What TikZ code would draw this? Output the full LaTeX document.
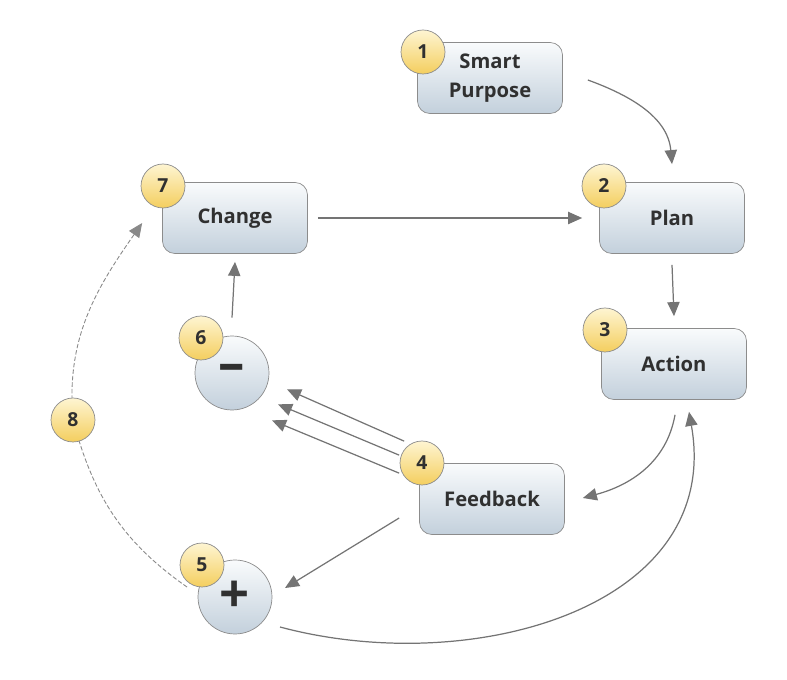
\documentclass[tikz,border=0pt]{standalone}
\usepackage{fontspec}
\setmainfont{Open Sans}
\usetikzlibrary{arrows.meta,positioning}

\definecolor{boxtop}{HTML}{F9FBFC}
\definecolor{boxbot}{HTML}{C3D0DC}
\definecolor{boxline}{HTML}{8C8C8C}
\definecolor{badgetop}{HTML}{FEF5D2}
\definecolor{badgebot}{HTML}{F4CE5E}
\definecolor{linkgray}{HTML}{747474}
\definecolor{txt}{HTML}{303030}

\tikzset{
  stepbox/.style={draw=boxline, rounded corners=7pt, top color=boxtop, bottom color=boxbot,
    minimum width=2.9cm, minimum height=1.42cm, align=center, text=txt,
    font=\fontsize{11.5}{16.5}\selectfont\bfseries},
  signbox/.style={circle, draw=boxline, top color=boxtop, bottom color=boxbot,
    minimum size=1.48cm, inner sep=0pt, text=txt, font=\fontsize{30}{30}\selectfont\bfseries},
  badge/.style={circle, draw=boxline, top color=badgetop, bottom color=badgebot,
    minimum size=0.88cm, inner sep=0pt, text=txt, font=\fontsize{11}{11}\selectfont\bfseries},
  link/.style={->, draw=linkgray, line width=0.7pt},
}

\begin{document}
\begin{tikzpicture}[x=0.02cm, y=0.02cm, >={Triangle[length=8pt,width=7pt]}]
    \useasboundingbox (0,0) rectangle (787,679);

    % Steps
    \node[stepbox] (purpose) at (490,601) {Smart\\Purpose};
    \node[stepbox] (plan) at (672,461) {Plan};
    \node[stepbox] (change) at (235,461) {Change};
    \node[stepbox] (action) at (674,315) {Action};
    \node[stepbox] (feedback) at (492,180) {Feedback};
    \node[signbox] (minus) at (232,306) {–};
    \node[signbox] (plus) at (235,82) {+};

    % Connectors
    \draw[link] ([shift={(25,-2)}]purpose.east) to[out=-20, in=95] ([shift={(0,18)}]plan.north);
    \draw[link] ([shift={(10,0)}]change.east) -- ([shift={(-17,0)}]plan.west);
    \draw[link] ([shift={(0,-11)}]plan.south) -- ([shift={(0,12)}]action.north);
    \draw[link] ([shift={(1,-15)}]action.south) to[out=-100, in=15] ([shift={(18,1)}]feedback.east);
    \draw[link] ([shift={(-20,-19)}]feedback.west) -- ([shift={(50,9)}]plus.center);
    \draw[link] ([shift={(0,18)}]minus.north) -- ([shift={(0,-8)}]change.south);
    \draw[link] ([shift={(45,-30)}]plus.center) to[out=-15, in=-80, looseness=1.1] ([shift={(15,-12)}]action.south);

    % Feedback to minus, three lines
    \draw[link] ([shift={(-15,22)}]feedback.north west) -- ([shift={(55,21)}]minus.south);
    \draw[link] ([shift={(-20,8)}]feedback.north west) -- ([shift={(46,6)}]minus.south);
    \draw[link] ([shift={(-20,-10)}]feedback.north west) -- ([shift={(40,-10)}]minus.south);

    % Dashed loop back to change
    \draw[link, draw=linkgray!85, dash pattern=on 2.5pt off 1.2pt, line width=0.5pt]
        ([shift={(-48,10)}]plus.center) to[out=145, in=-75] (73,259)
        to[out=95, in=-125] ([shift={(-20,-5)}]change.west);

    % Numbers
    \node[badge] (n1) at (423,627) {1};
    \node[badge] (n2) at (604,493) {2};
    \node[badge] (n7) at (163,493) {7};
    \node[badge] (n3) at (605,349) {3};
    \node[badge] (n6) at (201,341) {6};
    \node[badge] (n4) at (422,216) {4};
    \node[badge] (n5) at (202,114) {5};
    \node[badge] (n8) at (73,259) {8};
\end{tikzpicture}
\end{document}
